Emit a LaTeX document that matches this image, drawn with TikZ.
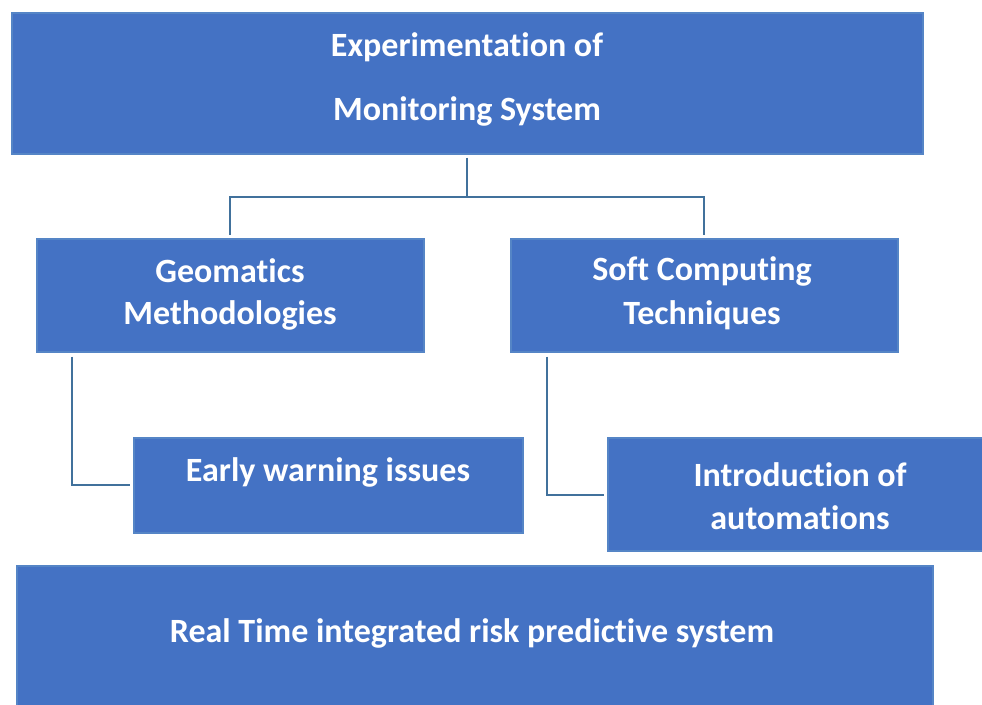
\documentclass[tikz,border=0pt]{standalone}
\usepackage{fontspec}
\setmainfont{Carlito}[Ligatures={NoCommon}]
\definecolor{boxfill}{HTML}{4472C4}
\definecolor{boxedge}{HTML}{5585C6}
\definecolor{linec}{HTML}{41719C}
\begin{document}
\begin{tikzpicture}[x=1pt,y=-1pt,
  box/.style={draw=boxedge, line width=1.5pt, fill=boxfill, inner sep=0pt, anchor=north west},
  txt/.style={text=white, font=\fontsize{34}{40}\selectfont\bfseries, align=center, inner sep=0pt},
  conn/.style={draw=linec, line width=2pt}]
\useasboundingbox (0,0) rectangle (982,704);
\clip (0,0) rectangle (982,704);
\node[box, minimum width=911, minimum height=141] (top) at (11,12) {};
\node[box, minimum width=387, minimum height=113] (geo) at (36,238) {};
\node[box, minimum width=387, minimum height=113] (soft) at (510,238) {};
\node[box, minimum width=389, minimum height=95] (early) at (133,437) {};
\node[box, minimum width=400, minimum height=113] (intro) at (607,437) {};
\node[box, minimum width=916, minimum height=160] (rt) at (16,565) {};
\node[txt] (t1) at (467,47) {Experimentation of};
\node[txt] (t2) at (467,111) {Monitoring System};
\node[txt] (g1) at (230,271) {Geomatics};
\node[txt] (g2) at (230,315) {Methodologies};
\node[txt] (s1) at (702,271) {Soft Computing};
\node[txt] (s2) at (702,315) {Techniques};
\node[txt] (e1) at (328,472) {Early warning issues};
\node[txt] (i1) at (800,475) {Introduction of};
\node[txt] (i2) at (800,518) {automations};
\node[txt] (r1) at (472,633) {Real Time integrated risk predictive system};
\coordinate (hub) at ([yshift=-42pt]top.south);
\draw[conn] ([yshift=-3pt]top.south) -- (hub);
\draw[conn] ([yshift=3pt]geo.north) |- (hub) -| ([yshift=3pt]soft.north);
\draw[conn] ([xshift=36pt,yshift=-4pt]geo.south west) |- ([xshift=-3pt]early.west);
\draw[conn] ([xshift=37pt,yshift=-4pt]soft.south west) |- ([xshift=-3pt,yshift=-0.5pt]intro.west);
\end{tikzpicture}
\end{document}
